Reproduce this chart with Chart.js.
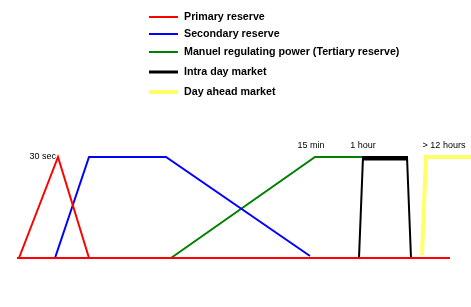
<!DOCTYPE html>
<html>
<head>
<meta charset="utf-8">
<script src="https://cdn.jsdelivr.net/npm/chart.js@4"></script>
<style>
html,body{margin:0;padding:0;background:#fff;}
#wrap{width:471px;height:307px;position:relative;}
</style>
</head>
<body>
<div id="wrap"><canvas id="c"></canvas></div>
<script>
// Series (x = time axis units, y = activated power in %)
const seriesNames = ["Primary reserve","Secondary reserve","Manuel regulating power (Tertiary reserve)","Intra day market","Day ahead market"];
const primaryX = [19, 58, 89];
const primaryY = [0, 100, 0];
const baselineX = [17, 450];
const baselineY = [0, 0];
const secondaryX = [55, 89, 166, 310];
const secondaryY = [0, 100, 100, 2];
const tertiaryX = [171, 315, 362];
const tertiaryY = [0, 100, 100];
const intradayX = [359, 363, 407, 411];
const intradayY = [0, 100, 100, 0];
const intradayTopX = [363, 407];
const intradayTopY = [98.5, 98.5];
const dayaheadX = [422, 426, 471];
const dayaheadY = [3, 100, 100];
// Time annotations
const annoText = ["30 sec", "15 min", "1 hour", "> 12 hours"];
const annoX = [56, 311, 363, 444];
const annoY = [100, 111, 111, 111];
const annoAlign = ["right", "center", "center", "center"];

const colors = ["#ff0000", "#0000ff", "#008000", "#000000", "#ffff66"];

function pts(xs, ys){ return xs.map((x,i)=>({x:x, y:ys[i]})); }

const legendPlugin = {
  id: 'customLegend',
  afterDraw(chart){
    const ctx = chart.ctx;
    const ys = [17, 34, 52, 72, 92];
    const widths = [2, 2, 2, 3, 4];
    ctx.save();
    ctx.font = 'bold 10.7px "Liberation Sans", Arial, sans-serif';
    ctx.textBaseline = 'middle';
    ctx.textAlign = 'left';
    seriesNames.forEach((n, i) => {
      ctx.strokeStyle = colors[i];
      ctx.lineWidth = widths[i];
      ctx.beginPath();
      ctx.moveTo(149, ys[i]);
      ctx.lineTo(178, ys[i]);
      ctx.stroke();
      ctx.fillStyle = '#000';
      ctx.fillText(n, 184, ys[i] + 0.5);
    });
    ctx.restore();
  }
};

const annoPlugin = {
  id: 'anno',
  afterDatasetsDraw(chart){
    const ctx = chart.ctx;
    const xs = chart.scales.x, ys = chart.scales.y;
    ctx.save();
    ctx.font = '9px "Liberation Sans", Arial, sans-serif';
    ctx.fillStyle = '#000';
    ctx.textBaseline = 'middle';
    annoText.forEach((t, i) => {
      ctx.textAlign = annoAlign[i];
      ctx.fillText(t, xs.getPixelForValue(annoX[i]), ys.getPixelForValue(annoY[i]));
    });
    ctx.restore();
  }
};

function ds(label, data, color, width){
  return {label, data, borderColor: color, backgroundColor: color, borderWidth: width,
    showLine: true, pointRadius: 0, fill: false, tension: 0, clip: false, borderJoinStyle: 'miter'};
}

new Chart(document.getElementById('c'), {
  type: 'scatter',
  data: {
    datasets: [
      ds(seriesNames[0], pts(primaryX, primaryY), colors[0], 2),
      ds('baseline', pts(baselineX, baselineY), colors[0], 2),
      ds(seriesNames[1], pts(secondaryX, secondaryY), colors[1], 2),
      ds(seriesNames[2], pts(tertiaryX, tertiaryY), colors[2], 2),
      ds(seriesNames[3], pts(intradayX, intradayY), colors[3], 2),
      ds('intraday top', pts(intradayTopX, intradayTopY), colors[3], 4),
      ds(seriesNames[4], pts(dayaheadX, dayaheadY), colors[4], 4)
    ]
  },
  options: {
    responsive: true,
    maintainAspectRatio: false,
    animation: false,
    layout: { padding: { left: 0, right: 0, top: 157, bottom: 49 } },
    scales: {
      x: { type: 'linear', min: 0, max: 471, display: false },
      y: { type: 'linear', min: 0, max: 100, display: false }
    },
    plugins: { legend: { display: false }, tooltip: { enabled: false } }
  },
  plugins: [legendPlugin, annoPlugin]
});
</script>
</body>
</html>
